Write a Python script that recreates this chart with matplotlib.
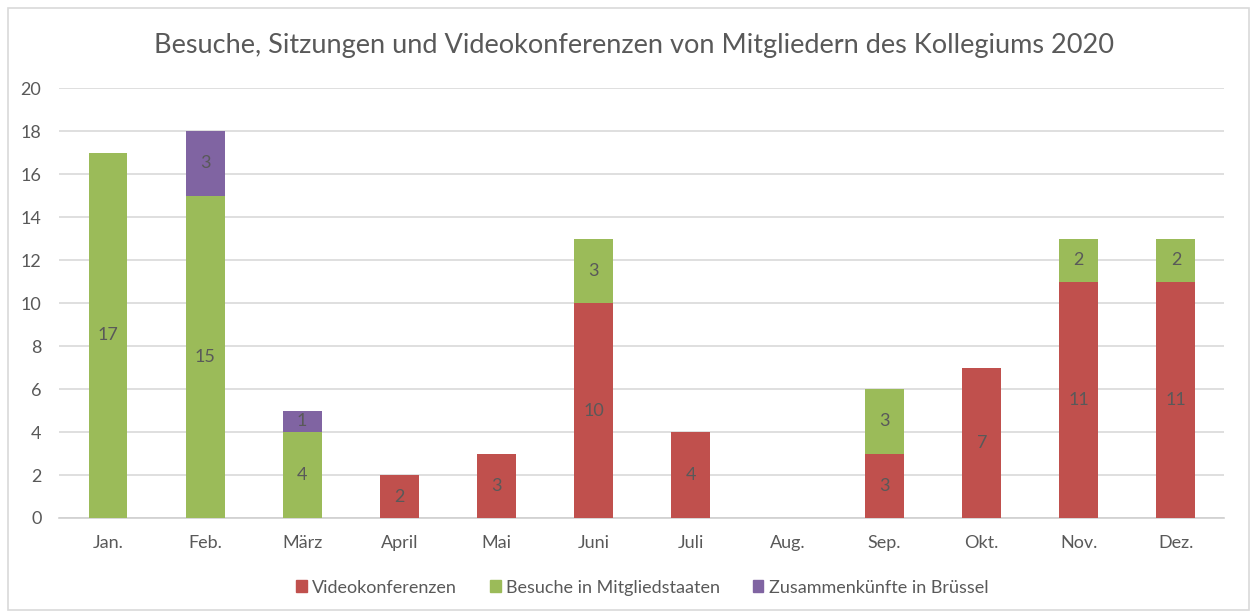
import matplotlib
matplotlib.use('Agg')
import matplotlib.pyplot as plt
from matplotlib.patches import Rectangle, Patch
import numpy as np

plt.rcParams['font.family'] = ['Lato', 'DejaVu Sans']

months = ['Jan.', 'Feb.', 'März', 'April', 'Mai', 'Juni', 'Juli', 'Aug.', 'Sep.', 'Okt.', 'Nov.', 'Dez.']
video = [0, 0, 0, 2, 3, 10, 4, 0, 3, 7, 11, 11]
besuche = [17, 15, 4, 0, 0, 3, 0, 0, 3, 0, 2, 2]
bruessel = [0, 3, 1, 0, 0, 0, 0, 0, 0, 0, 0, 0]

series = [
    ('Videokonferenzen', video, '#C0504D'),
    ('Besuche in Mitgliedstaaten', besuche, '#9BBB59'),
    ('Zusammenkünfte in Brüssel', bruessel, '#8064A2'),
]
text_col = '#595959'

fig = plt.figure(figsize=(12.52, 6.12), dpi=100)
ax = fig.add_axes([0.0475, 0.1536, 0.9305, 0.7024])

# chart border
fig.patches.append(Rectangle((0.0065, 0.003), 0.991, 0.984, transform=fig.transFigure,
                             fill=False, edgecolor='#D9D9D9', linewidth=1.2))

x = np.arange(len(months))
bottom = np.zeros(len(months))
for name, vals, col in series:
    vals = np.array(vals)
    ax.bar(x, vals, 0.40, bottom=bottom, color=col, label=name, zorder=3)
    for xi, b, v in zip(x, bottom, vals):
        if v > 0:
            ax.text(xi, b + v / 2, str(v), ha='center', va='center',
                    fontsize=13, color=text_col, zorder=4)
    bottom = bottom + vals

ax.set_xlim(-0.5, len(months) - 0.5)
ax.set_ylim(0, 20)
ax.set_yticks(range(0, 21, 2))
ax.set_xticks(x)
ax.set_xticklabels(months)
ax.tick_params(axis='both', length=0, labelsize=13, labelcolor=text_col)
ax.tick_params(axis='x', pad=12)
ax.tick_params(axis='y', pad=13)
ax.grid(axis='y', color='#D9D9D9', linewidth=1.2, zorder=0)
for s in ['top', 'right', 'left']:
    ax.spines[s].set_visible(False)
ax.spines['bottom'].set_color('#D0D0D0')
ax.spines['bottom'].set_linewidth(1.2)

fig.text(0.506, 0.925, 'Besuche, Sitzungen und Videokonferenzen von Mitgliedern des Kollegiums 2020',
         ha='center', va='center', fontsize=19.5, color=text_col)

handles = [Patch(color=c, label=n) for n, _, c in series]
fig.legend(handles=handles, loc='center', bbox_to_anchor=(0.513, 0.04), ncol=3, frameon=False,
           fontsize=13, labelcolor=text_col, handlelength=0.6, handleheight=0.6,
           handletextpad=0.3, columnspacing=1.8)

fig.savefig('out.png', dpi=100, facecolor='white')
